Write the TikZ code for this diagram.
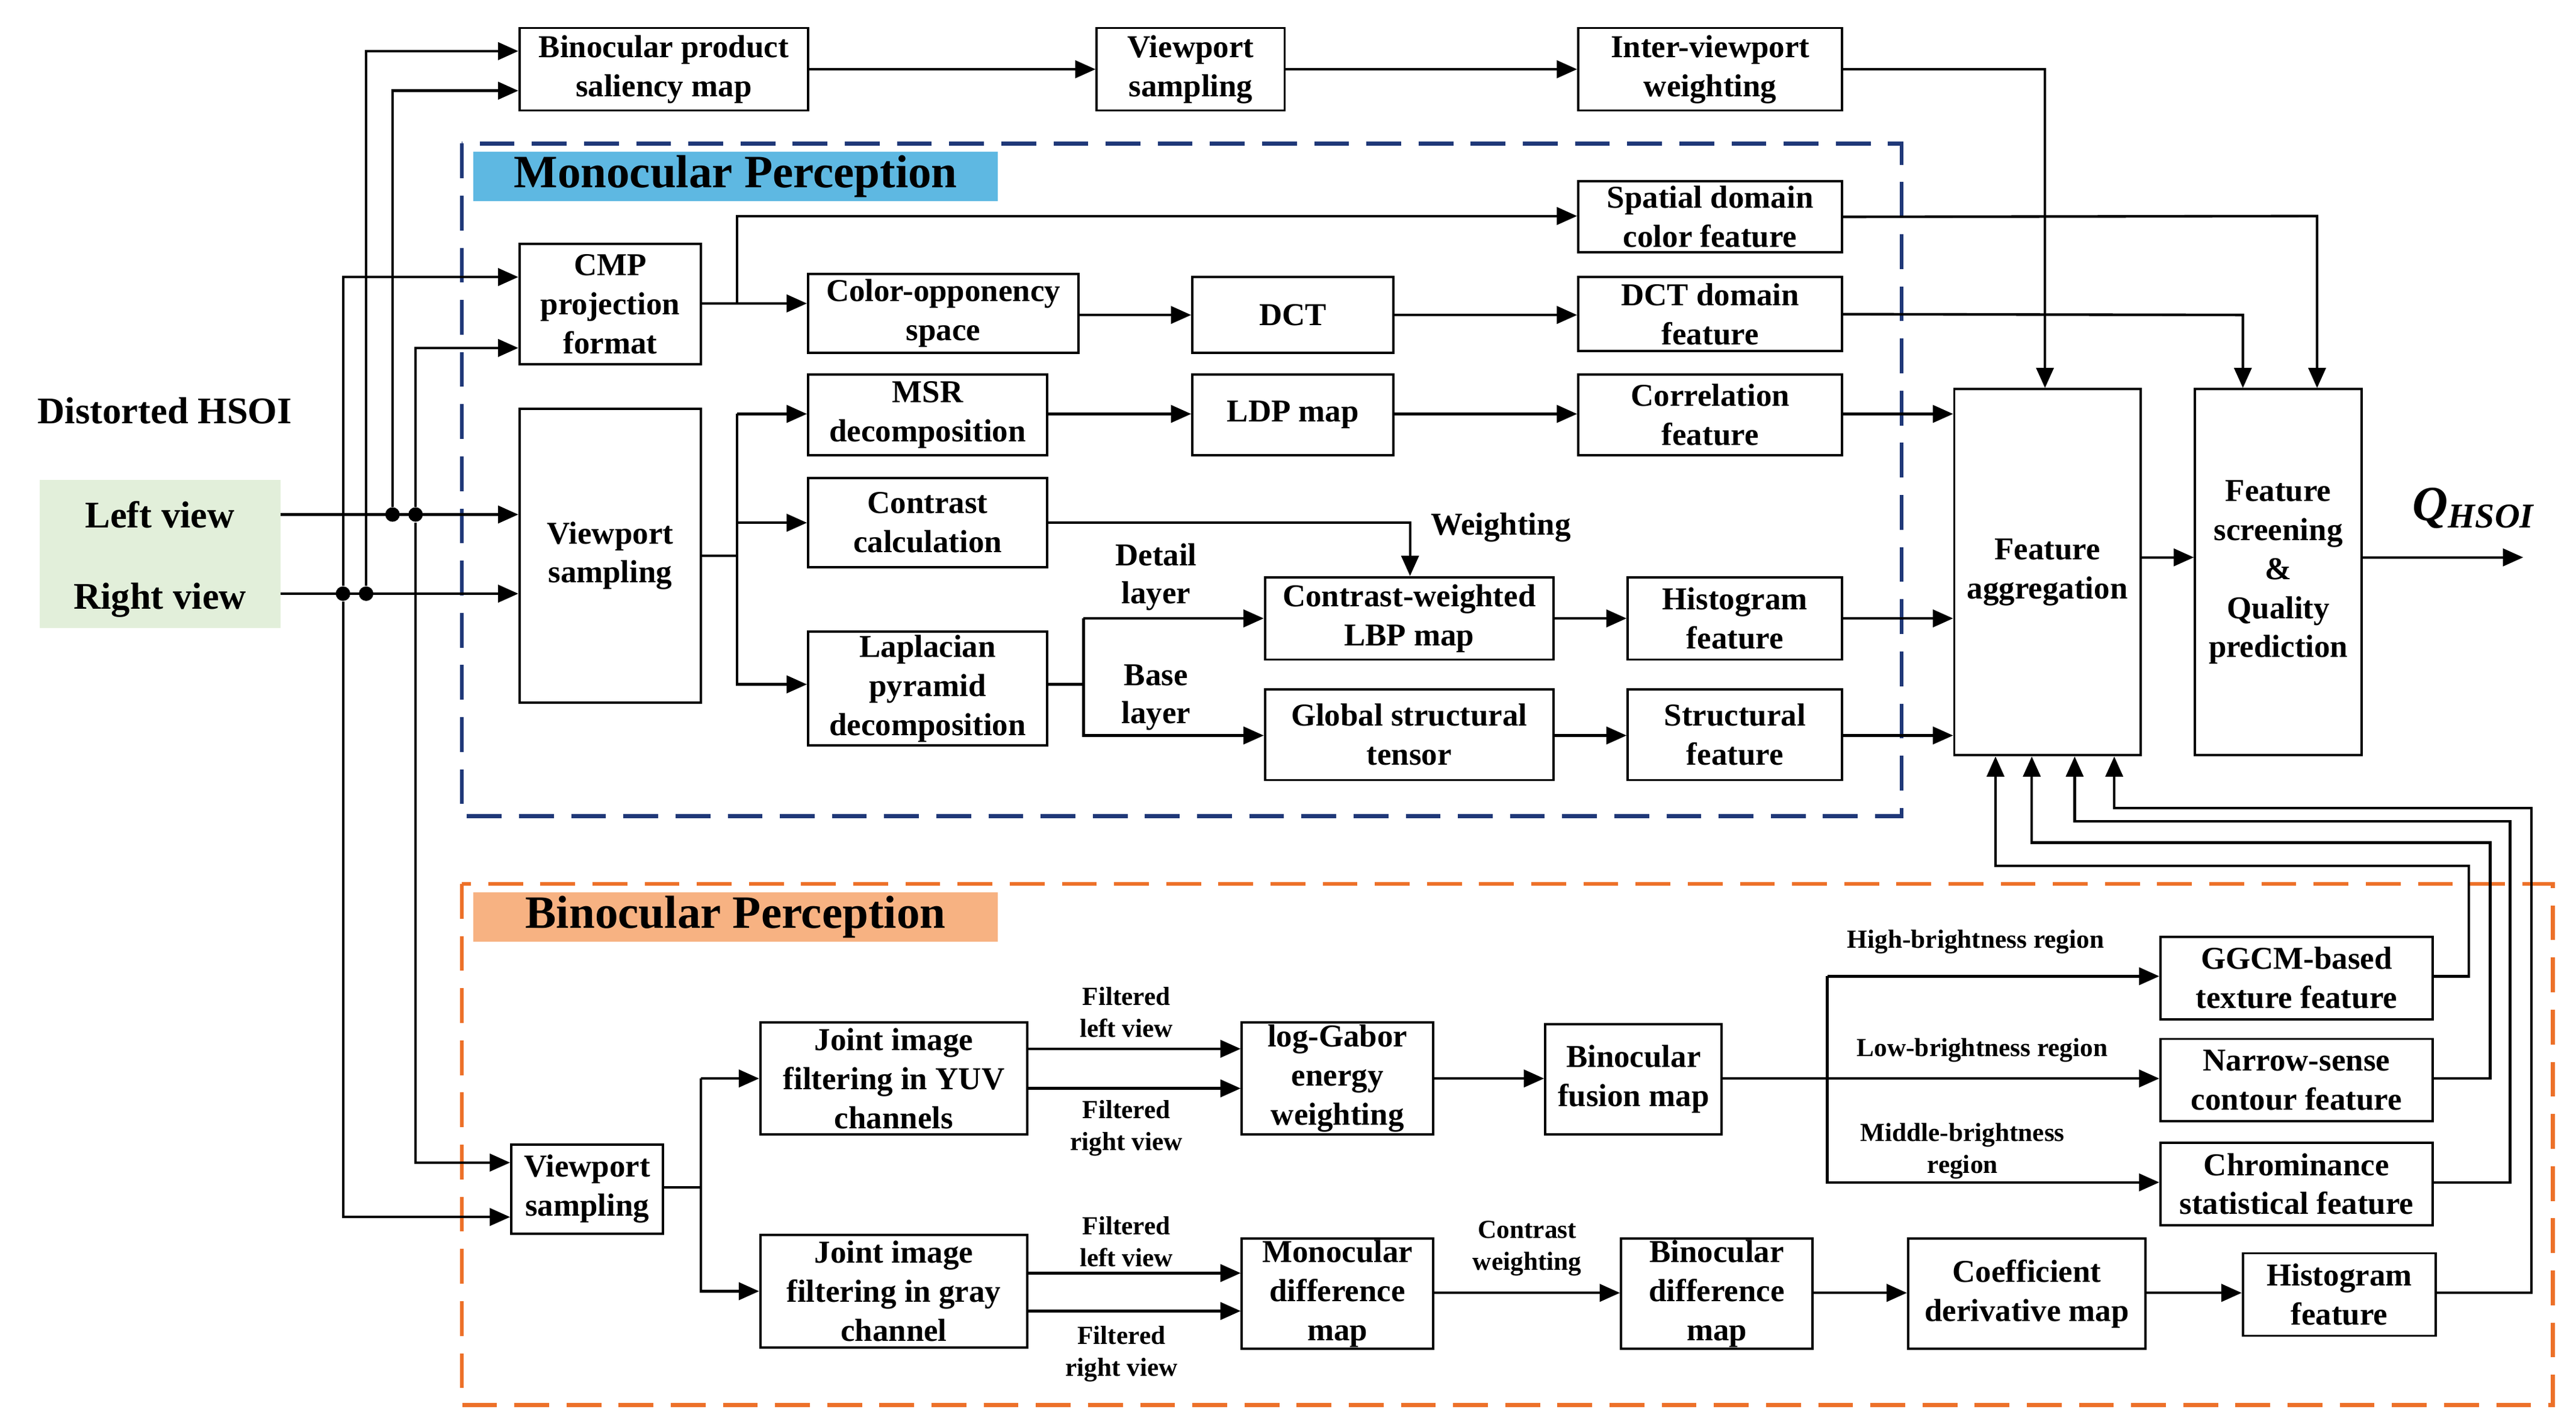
\documentclass[tikz,border=0pt]{standalone}
\usepackage{fontspec}
\setmainfont{Liberation Serif}
\usetikzlibrary{arrows.meta}
\definecolor{monoB}{RGB}{31,56,120}
\definecolor{monoF}{RGB}{94,184,226}
\definecolor{binB}{RGB}{237,112,40}
\definecolor{binF}{RGB}{247,178,130}
\definecolor{inF}{RGB}{226,239,218}
\begin{document}
\begin{tikzpicture}[x=0.02cm,y=-0.02cm,
 box/.style={draw,line width=0.8pt,align=center,font=\bfseries\fontsize{11}{13.5}\selectfont,inner sep=0pt},
 arr/.style={-{Triangle[length=7pt,width=6pt]},line width=0.9pt},
 ln/.style={line width=0.9pt},
 lab/.style={font=\bfseries\fontsize{9}{11}\selectfont,align=center},
 dot/.style={circle,fill,inner sep=0pt,minimum size=5pt}]
\useasboundingbox (0,0) rectangle (1562,865);
\newcommand\bx[6]{\node[box,minimum width={(#4-#2)*0.02cm},minimum height={(#5-#3)*0.02cm}] (#1) at ({(#2+#4)/2},{(#3+#5)/2}) {#6};}
% regions
\draw[line width=1.4pt,draw=monoB,dash pattern=on 12pt off 6pt] (280,87) rectangle (1153,495);
\fill[monoF] (287,92) rectangle (605,122);
\node[font=\bfseries\fontsize{16}{18}\selectfont] (t1) at (446,107) {Monocular Perception};
\draw[line width=1.4pt,draw=binB,dash pattern=on 12pt off 6pt] (280,536) rectangle (1548,852);
\fill[binF] (287,541) rectangle (605,571);
\node[font=\bfseries\fontsize{16}{18}\selectfont] (t2) at (446,556) {Binocular Perception};
\fill[inF] (24,291) rectangle (170,381);
\node[font=\bfseries\fontsize{13}{15}\selectfont] (dh) at (100,249) {Distorted HSOI};
\node[font=\bfseries\fontsize{13}{15}\selectfont] (lv) at (97,312) {Left view};
\node[font=\bfseries\fontsize{13}{15}\selectfont] (rv) at (97,364) {Right view};
% boxes
\bx{sal}{315}{17}{490}{67}{Binocular product\\saliency map}
\bx{vpt}{665}{17}{779}{67}{Viewport\\sampling}
\bx{ivw}{957}{17}{1117}{67}{Inter-viewport\\weighting}
\bx{cmp}{315}{148}{425}{221}{CMP\\projection\\format}
\bx{sdc}{957}{110}{1117}{153}{Spatial domain\\color feature}
\bx{cos}{490}{166}{654}{214}{Color-opponency\\space}
\bx{dct}{723}{168}{845}{214}{DCT}
\bx{dctf}{957}{168}{1117}{213}{DCT domain\\feature}
\bx{vpm}{315}{248}{425}{426}{Viewport\\sampling}
\bx{msr}{490}{227}{635}{276}{MSR\\decomposition}
\bx{ldp}{723}{227}{845}{276}{LDP map}
\bx{corr}{957}{227}{1117}{276}{Correlation\\feature}
\bx{con}{490}{290}{635}{344}{Contrast\\calculation}
\bx{lap}{490}{383}{635}{452}{Laplacian\\pyramid\\decomposition}
\bx{lbp}{767}{350}{942}{400}{Contrast-weighted\\LBP map}
\bx{hist}{987}{350}{1117}{400}{Histogram\\feature}
\bx{gst}{767}{418}{942}{473}{Global structural\\tensor}
\bx{str}{987}{418}{1117}{473}{Structural\\feature}
\bx{agg}{1185}{236}{1298}{458}{Feature\\aggregation}
\bx{scr}{1331}{236}{1432}{458}{Feature\\screening\\\&\\Quality\\prediction}
\bx{vpb}{310}{694}{402}{748}{Viewport\\sampling}
\bx{yuv}{461}{620}{623}{688}{Joint image\\filtering in YUV\\channels}
\bx{lg}{753}{620}{869}{688}{log-Gabor\\energy\\weighting}
\bx{fus}{937}{621}{1044}{688}{Binocular\\fusion map}
\bx{gg}{1310}{568}{1475}{618}{GGCM-based\\texture feature}
\bx{nar}{1310}{630}{1475}{680}{Narrow-sense\\contour feature}
\bx{chr}{1310}{693}{1475}{743}{Chrominance\\statistical feature}
\bx{gray}{461}{749}{623}{817}{Joint image\\filtering in gray\\channel}
\bx{mdm}{753}{751}{869}{818}{Monocular\\difference\\map}
\bx{bdm}{983}{751}{1099}{818}{Binocular\\difference\\map}
\bx{cdm}{1157}{751}{1301}{818}{Coefficient\\derivative map}
\bx{hb}{1360}{760}{1477}{810}{Histogram\\feature}
\node[font=\bfseries\itshape\fontsize{17}{20}\selectfont] (q) at (1500,308) {Q\textsubscript{\fontsize{12}{14}\selectfont HSOI}};
\coordinate (qo) at (1530,338);
% inputs
\coordinate (l0) at (170,312); \coordinate (r0) at (170,360);
\draw[arr] (l0) -- (vpm.west |- l0);
\draw[arr] (r0) -- (vpm.west |- r0);
\node[dot] (d1) at (238,312) {}; \node[dot] (d2) at (252,312) {};
\node[dot] (d3) at (208,360) {}; \node[dot] (d4) at (222,360) {};
\draw[arr] (d4) -- (222,31) -- (sal.west |- 0,31);
\draw[arr] (d1) -- (238,55) -- (sal.west |- 0,55);
\draw[arr] (d3) -- (208,168) -- (cmp.west |- 0,168);
\draw[arr] (d2) -- (252,211) -- (cmp.west |- 0,211);
\draw[arr] (d2) -- (252,705) -- (vpb.west |- 0,705);
\draw[arr] (d3) -- (208,738) -- (vpb.west |- 0,738);
% top
\draw[arr] (sal) -- (vpt);
\draw[arr] (vpt) -- (ivw);
\draw[arr] (ivw.east) -- (1240,42) -- (agg.north -| 1240,0);
\draw[arr] (sdc.east) -- (1405,131) -- (scr.north -| 1405,0);
\draw[arr] (dctf.east) -- (1360,191) -- (scr.north -| 1360,0);
% mono
\draw[arr] (cmp.east |- 0,184) -- (cos.west |- 0,184);
\draw[arr] (447,184) -- (447,131) -- (sdc.west |- 0,131);
\draw[arr] (cos.east |- 0,191) -- (dct.west |- 0,191);
\draw[arr] (dct) -- (dctf.west |- dct);
\draw[ln] (vpm.east |- 0,337) -- (447,337);
\draw[arr] (447,251) -- (447,415) -- (lap.west |- 0,415);
\draw[arr] (447,251) -- (msr.west |- 0,251);
\draw[arr] (447,317) -- (con.west |- 0,317);
\draw[arr] (msr.east |- 0,251) -- (ldp.west |- 0,251);
\draw[arr] (ldp.east |- 0,251) -- (corr.west |- 0,251);
\draw[arr] (corr.east |- 0,251) -- (agg.west |- 0,251);
\draw[arr] (con.east |- 0,317) -- (855,317) -- (lbp.north -| 855,0);
\node[lab,font=\bfseries\fontsize{11}{13}\selectfont] (w) at (910,320) {Weighting};
\draw[ln] (lap.east |- 0,415) -- (657,415);
\draw[arr] (657,375) -- (657,446) -- (gst.west |- 0,446);
\draw[arr] (657,375) -- (lbp.west |- 0,375);
\node[lab,font=\bfseries\fontsize{11}{13}\selectfont] (dl) at (701,350) {Detail\\layer};
\node[lab,font=\bfseries\fontsize{11}{13}\selectfont] (bl) at (701,423) {Base\\layer};
\draw[arr] (lbp) -- (hist);
\draw[arr] (gst.east |- 0,446) -- (str.west |- 0,446);
\draw[arr] (hist.east |- 0,375) -- (agg.west |- 0,375);
\draw[arr] (str.east |- 0,446) -- (agg.west |- 0,446);
\draw[arr] (agg.east |- 0,338) -- (scr.west |- 0,338);
\draw[arr] (scr.east |- 0,338) -- (qo);
% bino
\draw[ln] (vpb.east |- 0,720) -- (425,720);
\draw[arr] (425,654) -- (425,783) -- (gray.west |- 0,783);
\draw[arr] (425,654) -- (yuv.west |- 0,654);
\draw[arr] (yuv.east |- 0,636) -- (lg.west |- 0,636);
\draw[arr] (yuv.east |- 0,660) -- (lg.west |- 0,660);
\node[lab] (fl1) at (683,614) {Filtered\\left view};
\node[lab] (fr1) at (683,684) {Filtered\\right view};
\draw[arr] (lg.east |- 0,654) -- (fus.west |- 0,654);
\draw[arr] (fus.east |- 0,654) -- (nar.west |- 0,654);
\draw[arr] (1108,592) -- (1108,717) -- (chr.west |- 0,717);
\draw[arr] (1108,592) -- (gg.west |- 0,592);
\node[lab] (hbr) at (1198,571) {High-brightness region};
\node[lab] (lbr) at (1202,637) {Low-brightness region};
\node[lab] (mbr) at (1190,698) {Middle-brightness\\region};
\draw[arr] (gray.east |- 0,772) -- (mdm.west |- 0,772);
\draw[arr] (gray.east |- 0,795) -- (mdm.west |- 0,795);
\node[lab] (fl2) at (683,753) {Filtered\\left view};
\node[lab] (fr2) at (680,821) {Filtered\\right view};
\draw[arr] (mdm.east |- 0,784) -- (bdm.west |- 0,784);
\node[lab] (cw) at (926,757) {Contrast\\weighting};
\draw[arr] (bdm.east |- 0,784) -- (cdm.west |- 0,784);
\draw[arr] (cdm.east |- 0,784) -- (hb.west |- 0,784);
% returns
\draw[arr] (gg.east |- 0,592) -- (1497,592) -- (1497,525) -- (1210,525) -- (agg.south -| 1210,0);
\draw[arr] (nar.east |- 0,654) -- (1510,654) -- (1510,511) -- (1232,511) -- (agg.south -| 1232,0);
\draw[arr] (chr.east |- 0,717) -- (1522,717) -- (1522,498) -- (1258,498) -- (agg.south -| 1258,0);
\draw[arr] (hb.east |- 0,784) -- (1535,784) -- (1535,490) -- (1282,490) -- (agg.south -| 1282,0);
\end{tikzpicture}
\end{document}
